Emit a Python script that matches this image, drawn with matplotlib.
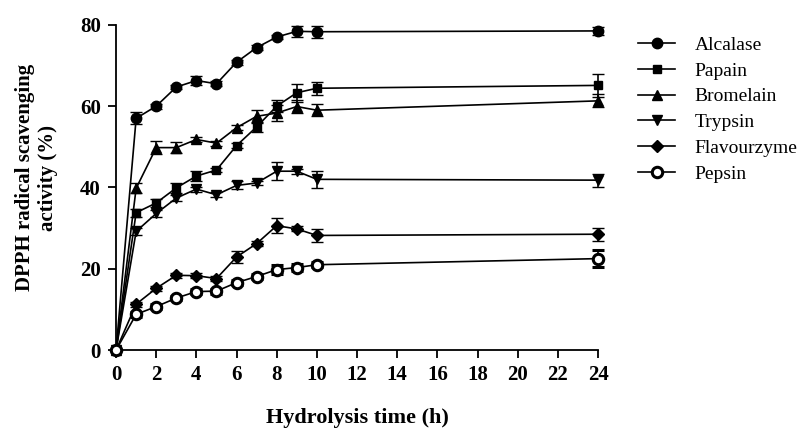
import matplotlib.pyplot as plt
from matplotlib.lines import Line2D
import numpy as np

plt.rcParams['font.family'] = ['Liberation Serif', 'DejaVu Serif']

hours = [0, 1, 2, 3, 4, 5, 6, 7, 8, 9, 10, 24]

alcalase = [0, 57, 60, 64.7, 66.3, 65.5, 70.8, 74.4, 77, 78.4, 78.3, 78.5]
alcalase_err = [0, 1.5, 0.6, 0.6, 1.2, 0.6, 0.6, 0.6, 0.6, 1.3, 1.5, 1.0]
papain = [0, 33.8, 36.2, 39.9, 42.8, 44.3, 50.3, 54.9, 60, 63.3, 64.4, 65.1]
papain_err = [0, 1.0, 1.0, 1.3, 1.2, 0.6, 0.6, 1.3, 1.5, 2.2, 1.6, 2.8]
bromelain = [0, 39.8, 49.8, 49.8, 51.8, 50.9, 54.7, 57.5, 58.3, 59.9, 59.0, 61.3]
bromelain_err = [0, 1.2, 1.6, 1.3, 0.6, 0.6, 0.6, 1.6, 2.0, 1.6, 1.5, 1.6]
trypsin = [0, 29.2, 33.6, 37.4, 39.6, 38.2, 40.5, 41.1, 44, 44, 42, 41.8]
trypsin_err = [0, 0.8, 0.8, 0.8, 0.6, 0.6, 1.0, 0.6, 2.2, 0.6, 2.1, 1.6]
flavourzyme = [0, 11.3, 15.2, 18.4, 18.3, 17.6, 22.9, 26.2, 30.6, 29.8, 28.2, 28.5]
flavourzyme_err = [0, 0.6, 0.6, 0.6, 0.6, 0.6, 1.4, 0.6, 1.8, 0.6, 1.6, 1.6]
pepsin = [0, 8.8, 10.7, 12.8, 14.4, 14.5, 16.6, 18.1, 19.8, 20.3, 21.0, 22.5]
pepsin_err = [0, 0.6, 0.6, 0.6, 0.6, 0.6, 0.6, 0.6, 1.2, 0.8, 0.6, 2.0]

series = [
    ("Alcalase", alcalase, alcalase_err, 'o', 7.5, 'black'),
    ("Papain", papain, papain_err, 's', 5.5, 'black'),
    ("Bromelain", bromelain, bromelain_err, '^', 7.5, 'black'),
    ("Trypsin", trypsin, trypsin_err, 'v', 7.5, 'black'),
    ("Flavourzyme", flavourzyme, flavourzyme_err, 'D', 6, 'black'),
    ("Pepsin", pepsin, pepsin_err, 'o', 7.5, 'white'),
]

fig = plt.figure(figsize=(8.06, 4.28), dpi=100)
ax = fig.add_axes([0.144, 0.182, 0.598, 0.760])

handles = []
for name, vals, err, mk, ms, fc in series:
    mew = 2.2 if fc == 'white' else 1
    ax.errorbar(hours, vals, yerr=err, color='black', lw=1.2, marker=mk,
                markersize=ms, markerfacecolor=fc, markeredgecolor='black',
                markeredgewidth=mew, elinewidth=1.2, capsize=4, capthick=1.2,
                clip_on=False, zorder=3)
    handles.append(Line2D([], [], color='black', lw=1.2, marker=mk,
                          markersize=ms, markerfacecolor=fc,
                          markeredgecolor='black', markeredgewidth=mew,
                          label=name))

ax.set_xlim(0, 24)
ax.set_ylim(0, 80)
ax.set_xticks(np.arange(0, 25, 2))
ax.set_yticks([0, 20, 40, 60, 80])
ax.spines['top'].set_visible(False)
ax.spines['right'].set_visible(False)
ax.spines['left'].set_linewidth(1.3)
ax.spines['bottom'].set_linewidth(1.3)
ax.tick_params(direction='out', length=6, width=1.3, labelsize=15, pad=5)
for lab in ax.get_xticklabels() + ax.get_yticklabels():
    lab.set_fontweight('bold')

ax.set_xlabel("Hydrolysis time (h)", fontsize=16, fontweight='bold', labelpad=16)
ax.set_ylabel("DPPH radical scavenging\nactivity (%)", fontsize=15,
              fontweight='bold', linespacing=1.2)
ax.yaxis.set_label_coords(-0.12, 0.53)

ax.legend(handles=handles, loc='upper left', bbox_to_anchor=(1.083, 0.965),
          frameon=False, fontsize=14, handlelength=1.9, handletextpad=1.0,
          labelspacing=0.42, borderaxespad=0, borderpad=0)

plt.savefig("out.png", dpi=100)
